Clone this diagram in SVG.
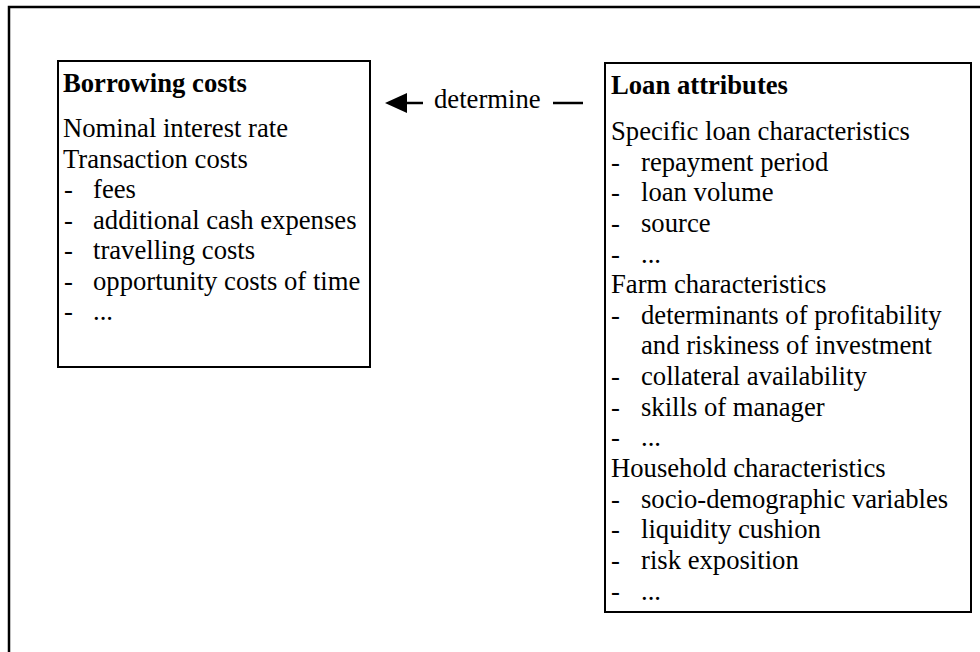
<svg xmlns="http://www.w3.org/2000/svg" width="980" height="652" viewBox="0 0 980 652">
<style>
text{font-family:"Liberation Serif","Times New Roman","DejaVu Serif",serif;font-size:26.67px;fill:#000}
.b{font-weight:bold}
.box{fill:#fff;stroke:#000;stroke-width:2}
.ln{stroke:#000;stroke-width:2.5}
</style>
<rect x="0" y="0" width="980" height="652" fill="#fff"/>
<path d="M9,700 L9,7 L1000,7" fill="none" stroke="#000" stroke-width="2.5"/>
<g id="borrowing-costs" font-family="Liberation Serif, serif">
<rect class="box" x="58" y="61" width="312" height="306"/>
<text class="b" x="63" y="92">Borrowing costs</text>
<text x="63" y="137">Nominal interest rate</text>
<text x="63" y="168">Transaction costs</text>
<text x="64" y="198">-</text><text x="93" y="198">fees</text>
<text x="64" y="229">-</text><text x="93" y="229">additional cash expenses</text>
<text x="64" y="259">-</text><text x="93" y="259">travelling costs</text>
<text x="64" y="290">-</text><text x="93" y="290">opportunity costs of time</text>
<text x="64" y="320">-</text><text x="93" y="320">...</text>
</g>
<g id="loan-attributes" font-family="Liberation Serif, serif">
<rect class="box" x="605" y="63" width="366" height="549"/>
<text class="b" x="611" y="94">Loan attributes</text>
<text x="611" y="140">Specific loan characteristics</text>
<text x="611" y="171">-</text><text x="641" y="171">repayment period</text>
<text x="611" y="201">-</text><text x="641" y="201">loan volume</text>
<text x="611" y="232">-</text><text x="641" y="232">source</text>
<text x="611" y="263">-</text><text x="641" y="263">...</text>
<text x="611" y="293">Farm characteristics</text>
<text x="611" y="324">-</text><text x="641" y="324">determinants of profitability</text>
<text x="641" y="354">and riskiness of investment</text>
<text x="611" y="385">-</text><text x="641" y="385">collateral availability</text>
<text x="611" y="416">-</text><text x="641" y="416">skills of manager</text>
<text x="611" y="446">-</text><text x="641" y="446">...</text>
<text x="611" y="477">Household characteristics</text>
<text x="611" y="508">-</text><text x="641" y="508">socio-demographic variables</text>
<text x="611" y="538">-</text><text x="641" y="538">liquidity cushion</text>
<text x="611" y="569">-</text><text x="641" y="569">risk exposition</text>
<text x="611" y="600">-</text><text x="641" y="600">...</text>
</g>
<g id="connectors" font-family="Liberation Serif, serif">
<line class="ln" x1="405" y1="103" x2="423" y2="103"/>
<polygon points="385,103 407,93 407,113" fill="#000"/>
<line class="ln" x1="553" y1="103" x2="583" y2="103"/>
<text x="434" y="108">determine</text>
</g>
</svg>
